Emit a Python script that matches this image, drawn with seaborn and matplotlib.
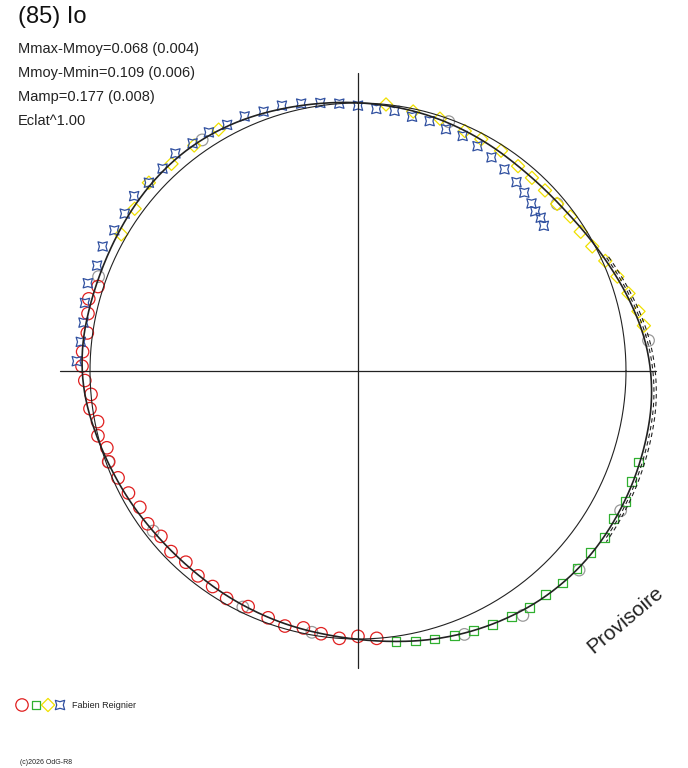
import numpy as np
import pandas as pd
import matplotlib
matplotlib.use('Agg')
import matplotlib.pyplot as plt
import seaborn as sns

# fitted curve: phase angle (deg, clockwise from top) and radius (reference circle = 1)
curve_ang = [0, 15, 30, 45, 60, 75, 90, 105, 120, 135, 150, 165, 180, 195, 210,
             225, 240, 255, 270, 285, 300, 315, 330, 345, 360]
curve_r = [1.000, 0.990, 0.975, 0.965, 0.990, 1.045, 1.100, 1.105, 1.108, 1.105,
           1.075, 1.038, 0.997, 0.982, 0.970, 0.963, 0.978, 1.000, 1.037, 1.026,
           1.030, 1.045, 1.041, 1.015, 1.000]

red_ang = [176, 180, 184, 188, 192, 196, 200, 205, 210, 214, 218, 222, 226, 230,
           234, 238, 242, 246, 250, 253, 256, 259, 262, 265, 268, 271, 274, 278, 282, 285, 288]
red_r = [1.00, 0.99, 1.00, 0.99, 0.98, 0.99, 0.98, 0.97, 0.98, 0.97, 0.97, 0.96, 0.97, 0.96,
         0.97, 0.96, 0.97, 0.98, 0.99, 0.98, 1.00, 0.99, 1.01, 1.00, 1.02, 1.03, 1.03, 1.02, 1.03, 1.04, 1.02]
green_ang = [108, 112, 116, 120, 124, 128, 132, 136, 140, 144, 148, 152, 156, 160, 164, 168, 172]
green_r = [1.10, 1.10, 1.11, 1.10, 1.11, 1.10, 1.10, 1.10, 1.09, 1.09, 1.08, 1.07, 1.06, 1.05, 1.04, 1.03, 1.02]
yellow_ang = [6, 12, 18, 24, 28, 33, 38, 42, 46, 50, 54, 58, 62, 66, 70, 74, 78, 81,
              300, 306, 312, 318, 324, 330]
yellow_r = [1.00, 0.99, 0.99, 0.98, 0.98, 0.98, 0.97, 0.97, 0.97, 0.97, 0.98, 0.98, 0.99, 1.01, 1.03, 1.05, 1.07, 1.08,
            1.02, 1.03, 1.05, 1.04, 1.04, 1.04]
blue_ang = [272, 276, 280, 284, 288, 292, 296, 300, 304, 308, 312, 316, 320, 324, 328, 332,
            336, 340, 344, 348, 352, 356, 0, 4, 8, 12, 16, 20, 24, 28, 32, 36, 40, 43, 46, 48, 50, 52]
blue_r = [1.05, 1.04, 1.04, 1.05, 1.06, 1.05, 1.06, 1.05, 1.05, 1.06, 1.05, 1.05, 1.06, 1.05, 1.05, 1.04,
          1.04, 1.03, 1.03, 1.02, 1.01, 1.00, 0.99, 0.98, 0.98, 0.97, 0.97, 0.96, 0.96, 0.95, 0.94, 0.93,
          0.92, 0.91, 0.90, 0.89, 0.89, 0.88]
gray_ang = [118, 132, 146, 158, 190, 206, 232, 250, 290, 326, 20, 50, 84]
gray_r = [1.11, 1.11, 1.10, 1.06, 0.99, 0.98, 0.97, 0.99, 1.03, 1.04, 0.99, 0.97, 1.09]

header = ["Mmax-Mmoy=0.068 (0.004)", "Mmoy-Mmin=0.109 (0.006)", "Mamp=0.177 (0.008)", "Eclat^1.00"]

CX, CY, S = 358, 371, 268.0


def to_xy(ang, r):
    a = np.radians(np.asarray(ang, float))
    r = np.asarray(r, float)
    return r * np.sin(a), r * np.cos(a)


sns.set_style("white")
plt.rcParams['font.family'] = ['Liberation Sans', 'DejaVu Sans']
fig = plt.figure(figsize=(6.88, 7.68), dpi=100)
ax = fig.add_axes([0, 0, 1, 1])
ax.set_xlim(-CX / S, (688 - CX) / S)
ax.set_ylim((CY - 768) / S, CY / S)
ax.axis("off")

# axes cross
ax.plot([(60 - CX) / S, (656 - CX) / S], [0, 0], color="#222222", lw=0.9)
ax.plot([0, 0], [(CY - 668) / S, (CY - 73) / S], color="#222222", lw=0.9)

# reference circle
t = np.linspace(0, 2 * np.pi, 400)
ax.plot(np.cos(t), np.sin(t), color="#222222", lw=0.8)

# fitted curve (smoothed through the sampled radii) plus dashed envelopes on the right
fine = np.linspace(0, 360, 721)
rf = np.interp(fine, curve_ang, curve_r)
rf = np.convolve(np.r_[rf[-40:], rf, rf[:40]], np.ones(41) / 41, mode="same")[40:-40]
x, y = to_xy(fine, rf)
ax.plot(x, y, color="#222222", lw=1.2)
sel = (fine > 65) & (fine < 125)
for k in (1.008, 1.016):
    x, y = to_xy(fine[sel], rf[sel] * k)
    ax.plot(x, y, color="#222222", lw=0.8, ls=(0, (4, 3)))

series = [
    (gray_ang, gray_r, "#999999", "o", 70),
    (red_ang, red_r, "#e02020", "o", 80),
    (green_ang, green_r, "#30b030", "s", 40),
    (yellow_ang, yellow_r, "#f0e000", "D", 45),
    (blue_ang, blue_r, "#3050a0", (4, 1, 45), 90),
]
for ang, r, col, mk, sz in series:
    x, y = to_xy(ang, r)
    df = pd.DataFrame({"x": x, "y": y})
    sns.scatterplot(data=df, x="x", y="y", ax=ax, marker=mk, s=sz,
                    facecolor="none", edgecolor=col, linewidth=0.9)

ax.text(-CX / S + 18 / S, CY / S - 6 / S, "(85) Io", fontsize=17, va="top", color="#111111")
for i, line in enumerate(header):
    ax.text(-CX / S + 18 / S, CY / S - (42 + i * 24) / S, line, fontsize=10.5, va="top", color="#222222")
ax.text((625 - CX) / S, (CY - 620) / S, "Provisoire", fontsize=15, rotation=40,
        ha="center", va="center", color="#222222")

# legend row
lx = [(22 - CX) / S, (36 - CX) / S, (48 - CX) / S, (60 - CX) / S]
ly = (CY - 705) / S
for (ang, r, col, mk, sz), xx in zip(series[1:], lx):
    ax.scatter([xx], [ly], marker=mk, s=sz, facecolor="none", edgecolor=col, linewidth=0.9)
ax.text((72 - CX) / S, ly, "Fabien Reignier", fontsize=6.5, va="center", color="#222222")
ax.text((20 - CX) / S, (CY - 762) / S, "(c)2026 OdG-R8", fontsize=5, va="center", color="#222222")

fig.savefig("out.png", dpi=100)
